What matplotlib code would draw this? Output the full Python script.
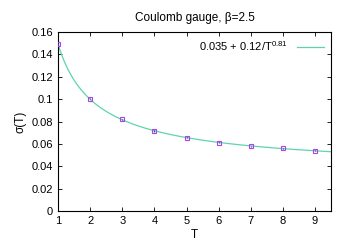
import numpy as np
import matplotlib.pyplot as plt

plt.rcParams['font.family'] = ['Liberation Sans', 'DejaVu Sans']
plt.rcParams['mathtext.fontset'] = 'custom'
plt.rcParams['mathtext.rm'] = 'Liberation Sans'

T = [1, 2, 3, 4, 5, 6, 7, 8, 9]
sigma = [0.149, 0.1005, 0.082, 0.0715, 0.0655, 0.0612, 0.058, 0.0562, 0.054]
sigma_err = [0.001, 0.0008, 0.0006, 0.0006, 0.0005, 0.0005, 0.0005, 0.0005, 0.0005]

# fit parameters (unrounded-ish)
fit_a, fit_b, fit_c = 0.0345, 0.1145, 0.81

fig = plt.figure(figsize=(3.5, 2.45), dpi=100)
ax = fig.add_axes([0.166, 0.139, 0.780, 0.730])

tt = np.linspace(1, 9.5, 300)
ax.plot(tt, fit_a + fit_b / tt**fit_c, color="#5fd3b0", lw=0.9,
        label="0.035 + 0.12/T$^{\\mathrm{0.81}}$", zorder=2)
ax.errorbar(T, sigma, yerr=sigma_err, fmt="none", ecolor="#3040d0", elinewidth=0.8, zorder=3)
ax.plot(T, sigma, ls="none", marker="s", ms=3.5, mfc="none", mec="#b040e0", mew=0.8, zorder=4)

ax.set_xlim(1, 9.5)
ax.set_ylim(0, 0.16)
ax.set_xticks(range(1, 10))
ax.set_yticks(np.arange(0, 0.161, 0.02))
ax.set_yticklabels(["0", "0.02", "0.04", "0.06", "0.08", "0.1", "0.12", "0.14", "0.16"])
ax.tick_params(direction="in", top=True, right=True, labelsize=8, length=3, width=0.6)
for s in ax.spines.values():
    s.set_linewidth(0.8)

ax.set_xlabel("T", fontsize=8.5, labelpad=2)
ax.set_ylabel("σ(T)", fontsize=8.5, labelpad=4)
ax.set_title("Coulomb gauge, β=2.5", fontsize=8.5, pad=8)

leg = ax.legend(loc="upper right", frameon=False, fontsize=8, markerfirst=False,
                handlelength=2.5, borderaxespad=0.2)

plt.savefig("out.png", dpi=100)
